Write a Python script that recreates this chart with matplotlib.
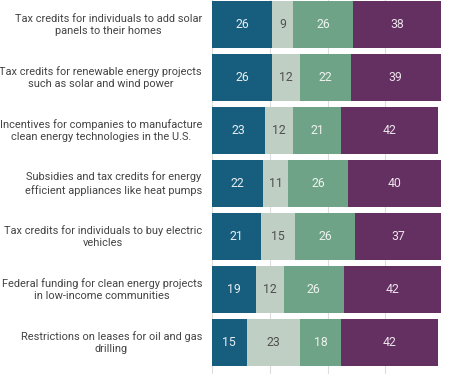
import numpy as np
import matplotlib.pyplot as plt

plt.rcParams['font.family'] = ['Roboto', 'DejaVu Sans']

labels = [
    "Tax credits for individuals to add solar\npanels to their homes",
    "Tax credits for renewable energy projects\nsuch as solar and wind power",
    "Incentives for companies to manufacture\nclean energy technologies in the U.S.",
    "Subsidies and tax credits for energy\nefficient appliances like heat pumps",
    "Tax credits for individuals to buy electric\nvehicles",
    "Federal funding for clean energy projects\nin low-income communities",
    "Restrictions on leases for oil and gas\ndrilling",
]
s1 = [26, 26, 23, 22, 21, 19, 15]
s2 = [9, 12, 12, 11, 15, 12, 23]
s3 = [26, 22, 21, 26, 26, 26, 18]
s4 = [38, 39, 42, 40, 37, 42, 42]

series = [s1, s2, s3, s4]
colors = ['#175e7e', '#bfcfc4', '#6fa388', '#642f61']
text_colors = ['#e8eef2', '#505050', '#eef2ee', '#ece4ec']

fig = plt.figure(figsize=(4.62, 3.74), dpi=100)
ax = fig.add_axes([212 / 462, 0, 231 / 462, 376 / 374])

y = np.arange(len(labels))
left = np.zeros(len(labels))
for vals, c, tc in zip(series, colors, text_colors):
    vals = np.array(vals)
    ax.barh(y, vals, left=left, height=0.9, color=c, clip_on=False, zorder=2)
    for yi, l, v in zip(y, left, vals):
        ax.text(l + v / 2, yi, str(v), ha='center', va='center', color=tc,
                fontsize=8.8, zorder=3)
    left += vals

ax.set_xlim(0, 100)
ax.set_ylim(-0.5 + 376 / 53, -0.5)
ax.set_xticks([0, 25, 50, 75, 100])
ax.grid(axis='x', color='#dddddd', linewidth=0.8, zorder=0)
ax.tick_params(left=False, bottom=False, labelbottom=False, labelleft=False)
for s in ax.spines.values():
    s.set_visible(False)

for yi, lab in zip(y, labels):
    ax.text(-10 / 231 * 100, yi, lab, ha='right', va='center', color='#444444',
            fontsize=7.9, linespacing=1.25, multialignment='center')

fig.savefig('out.png', dpi=100)
